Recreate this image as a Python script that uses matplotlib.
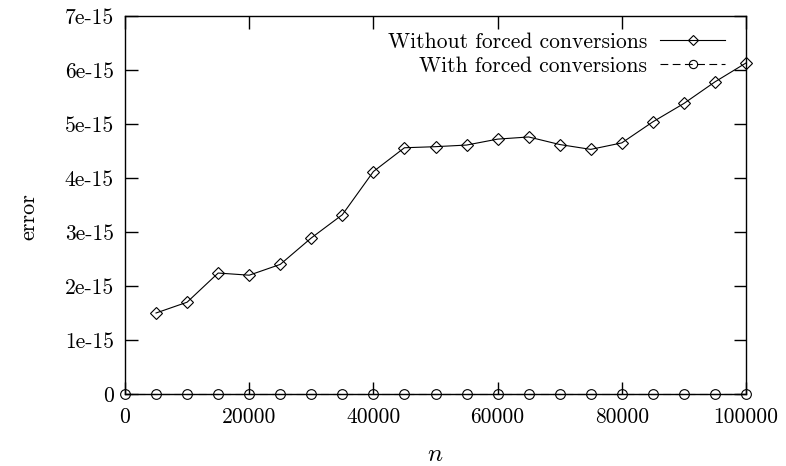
import matplotlib
matplotlib.use("Agg")
import matplotlib.pyplot as plt

plt.rcParams["font.family"] = ["cmr10", "DejaVu Serif"]
plt.rcParams["mathtext.fontset"] = "cm"
plt.rcParams["axes.unicode_minus"] = False

# Error vs. problem size n
n_without = [5000, 10000, 15000, 20000, 25000, 30000, 35000, 40000, 45000, 50000,
             55000, 60000, 65000, 70000, 75000, 80000, 85000, 90000, 95000, 100000]
err_without = [1.50e-15, 1.70e-15, 2.24e-15, 2.20e-15, 2.40e-15, 2.89e-15, 3.32e-15,
               4.12e-15, 4.56e-15, 4.58e-15, 4.61e-15, 4.72e-15, 4.76e-15, 4.62e-15,
               4.53e-15, 4.65e-15, 5.04e-15, 5.38e-15, 5.78e-15, 6.13e-15]

n_with = [0, 5000, 10000, 15000, 20000, 25000, 30000, 35000, 40000, 45000, 50000,
          55000, 60000, 65000, 70000, 75000, 80000, 85000, 90000, 95000, 100000]
err_with = [0.0] * len(n_with)

x_ticks = [0, 20000, 40000, 60000, 80000, 100000]
x_tick_labels = ["0", "20000", "40000", "60000", "80000", "100000"]
y_ticks = [0, 1e-15, 2e-15, 3e-15, 4e-15, 5e-15, 6e-15, 7e-15]
y_tick_labels = ["0", "1e-15", "2e-15", "3e-15", "4e-15", "5e-15", "6e-15", "7e-15"]

fig = plt.figure(figsize=(7.86, 4.66), dpi=100)
ax = fig.add_axes([125 / 786, 72 / 466, 621 / 786, 378 / 466])

ax.plot(n_without, err_without, color="black", lw=0.8, marker="D", ms=6.2,
        mfc="none", mec="black", mew=0.8, clip_on=False,
        label="Without forced conversions", zorder=3)
ax.plot(n_with, err_with, color="black", lw=0.8, ls=(0, (7, 4)), marker="o", ms=7,
        mfc="none", mec="black", mew=0.8, clip_on=False,
        label="With forced conversions", zorder=3)

ax.set_xlim(0, 100000)
ax.set_ylim(0, 7e-15)
ax.set_xticks(x_ticks)
ax.set_xticklabels(x_tick_labels)
ax.set_yticks(y_ticks)
ax.set_yticklabels(y_tick_labels)

ax.tick_params(direction="in", length=9, width=1.0, top=True, right=True,
               labelsize=15.5)
ax.tick_params(axis="y", pad=8)
ax.tick_params(axis="x", pad=10)
for s in ax.spines.values():
    s.set_linewidth(1.0)

ax.set_xlabel(r"$n$", fontsize=18, labelpad=12)
ax.set_ylabel("error", fontsize=16)
ax.yaxis.set_label_coords(-0.139, 0.47)

leg = ax.legend(loc="upper right", frameon=False, markerfirst=False,
                fontsize=15.5, handlelength=3.0, handletextpad=0.6,
                labelspacing=0.22, borderaxespad=0.0, markerscale=0.85,
                bbox_to_anchor=(0.98, 0.98))

fig.savefig("out.png", dpi=100)
